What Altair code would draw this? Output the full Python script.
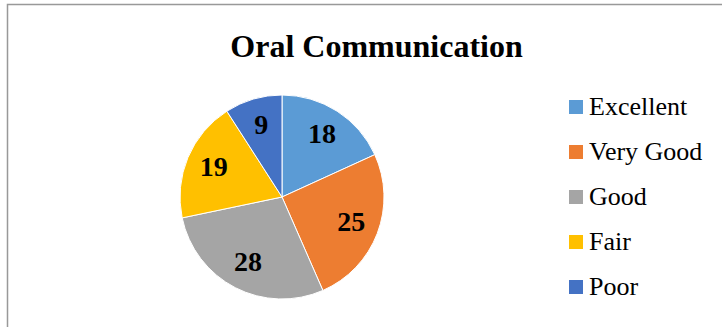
import altair as alt
import pandas as pd

categories = ["Excellent", "Very Good", "Good", "Fair", "Poor"]
values = [18, 25, 28, 19, 9]
colors = ["#5B9BD5", "#ED7D31", "#A5A5A5", "#FFC000", "#4472C4"]
title_text = "Oral Communication"

df = pd.DataFrame({"category": categories, "value": values,
                   "order": list(range(len(categories)))})

base = alt.Chart(df).encode(
    theta=alt.Theta("value:Q", stack=True),
    order=alt.Order("order:Q"),
)

pie = base.mark_arc(stroke="white", strokeWidth=1, radius=102).encode(
    x=alt.value(282),
    y=alt.value(197),
    color=alt.Color(
        "category:N",
        scale=alt.Scale(domain=categories, range=colors),
        sort=categories,
        legend=alt.Legend(
            orient="none", legendX=563, legendY=94, title=None,
            symbolType="square", symbolSize=196, symbolStrokeWidth=0,
            labelFont="Liberation Serif", labelFontSize=26, labelOffset=0,
            labelColor="black", rowPadding=19, padding=0,
        ),
    ),
)

labels = base.mark_text(
    radius=74, font="Liberation Serif", fontSize=28, fontWeight="bold",
    color="black", align="center", baseline="middle",
).encode(x=alt.value(282), y=alt.value(197), text="value:Q")

single = alt.Chart(pd.DataFrame({"t": [title_text]}))

title = single.mark_text(
    font="Liberation Serif", fontSize=32, fontWeight="bold", color="black",
    align="center", baseline="alphabetic",
).encode(x=alt.value(376.5), y=alt.value(57), text="t:N")

border = single.mark_rect(fill="transparent", stroke="#999999", strokeWidth=1.5).encode(
    x=alt.value(7.5), x2=alt.value(760), y=alt.value(4.5), y2=alt.value(360)
)

chart = alt.layer(border, pie, labels, title).properties(
    width=722, height=327, autosize="none", padding=0, background="white"
).configure_view(stroke=None)

chart.save("out.html", embed_options={"renderer": "svg", "actions": False})
